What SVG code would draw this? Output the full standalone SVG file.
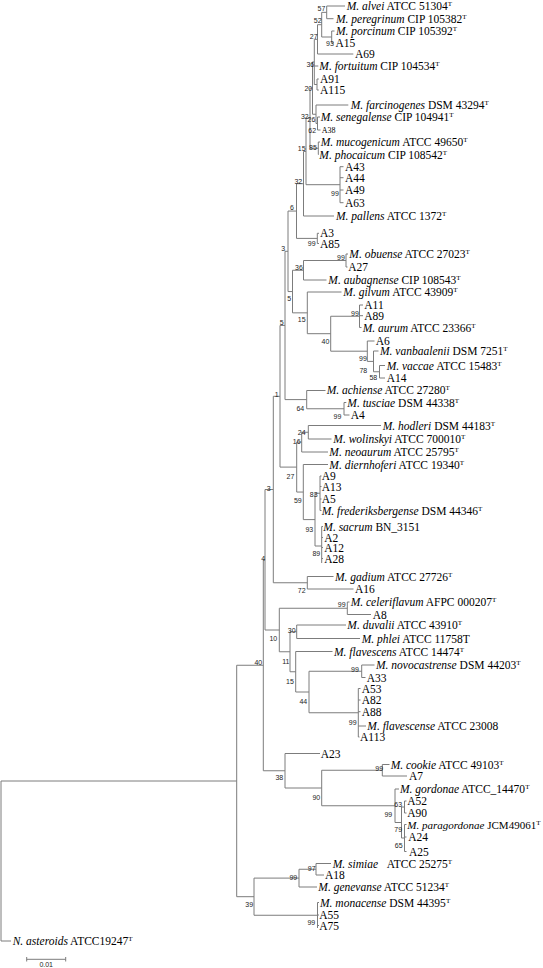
<svg xmlns="http://www.w3.org/2000/svg" width="543" height="968" viewBox="0 0 543 968">
<style>
.t{font-family:"Liberation Serif","Times New Roman",serif;font-size:11.5px;fill:#000}
.a{font-size:8px}
.i{font-style:italic}
.s{font-size:7px}
.b{font-family:"Liberation Sans",Arial,sans-serif;font-size:7px;fill:#222;text-anchor:middle}
.c{fill:none;stroke:#7c7c7c;stroke-width:1}
</style>
<rect width="543" height="968" fill="#fff"/>
<g id="connectors" class="c">
<path d="M326.7 6V18.7M326.7 6H345M326.7 18.7H333.5"/>
<path d="M331.7 31V43M331.7 31H334.5M331.7 43H334"/>
<path d="M321.7 12.35V37M321.7 12.35H326.7M321.7 37H331.7"/>
<path d="M317.5 24.7V54M317.5 24.7H321.7M317.5 54H353.3"/>
<path d="M317 79V90M317 79H318.8M317 90H318.8"/>
<path d="M314.3 39.35V84.5M314.3 39.35H317.5M314.3 66H318.3M314.3 84.5H317"/>
<path d="M318.3 142V154.5M318.3 142H320M318.3 154.5H318.8"/>
<path d="M317.5 117V130M317.5 117H320M317.5 130H320.5"/>
<path d="M316 105V123.5M316 105H348.3M316 123.5H317.5"/>
<path d="M312.5 61.9V114.25M312.5 61.9H314.3M312.5 114.25H316"/>
<path d="M310 88.1V148.25M310 88.1H312.5M310 148.25H318.3"/>
<path d="M340 166.7V202.7M340 166.7H343.5M340 177.7H343.5M340 190H343.5M340 202.7H343.5"/>
<path d="M306 118.2V184.7M306 118.2H310M306 184.7H340"/>
<path d="M303.5 151.45V216M303.5 151.45H306M303.5 216H334"/>
<path d="M317.3 233.3V243.5M317.3 233.3H319M317.3 243.5H319"/>
<path d="M296.5 183.7V238.4M296.5 183.7H303.5M296.5 238.4H317.3"/>
<path d="M346 254V267M346 254H348M346 267H347.5"/>
<path d="M303.5 260.5V280M303.5 260.5H346M303.5 280H326.5"/>
<path d="M359.5 305V327.5M359.5 305H363M359.5 315.7H363M359.5 327.5H361.5"/>
<path d="M379.5 365.5V378M379.5 365.5H385M379.5 378H385"/>
<path d="M373.5 351V371.75M373.5 351H378.5M373.5 371.75H379.5"/>
<path d="M367.3 341V361.4M367.3 341H374.5M367.3 361.4H373.5"/>
<path d="M330.7 316.25V351.2M330.7 316.25H359.5M330.7 351.2H367.3"/>
<path d="M307.3 292V333.7M307.3 292H341.5M307.3 333.7H330.7"/>
<path d="M292.5 270.25V312.85M292.5 270.25H303.5M292.5 312.85H307.3"/>
<path d="M288 211.05V291.55M288 211.05H296.5M288 291.55H292.5"/>
<path d="M344 402.5V415M344 402.5H346.3M344 415H349.5"/>
<path d="M306.7 390.5V408.75M306.7 390.5H325.5M306.7 408.75H344"/>
<path d="M285 251.3V399.6M285 251.3H288M285 399.6H306.7"/>
<path d="M308.3 425.5V439M308.3 425.5H381M308.3 439H331.5"/>
<path d="M301.7 432.25V452M301.7 432.25H308.3M301.7 452H328"/>
<path d="M320 476V510.5M320 476H321.5M320 486.5H321.5M320 499H321.5M320 510.5H321.5"/>
<path d="M321.7 526.5V563M321.7 526.5H323M321.7 537.5H323M321.7 547.5H323M321.7 558.5H323"/>
<path d="M315 493.25V546M315 493.25H320M315 546H321.7"/>
<path d="M303.3 464.5V519.6M303.3 464.5H328M303.3 519.6H315"/>
<path d="M296.7 442.1V492.05M296.7 442.1H301.7M296.7 492.05H303.3"/>
<path d="M280 325.45V467.1M280 325.45H285M280 467.1H296.7"/>
<path d="M307.3 576.5V589M307.3 576.5H333.5M307.3 589H353.5"/>
<path d="M273.3 396.3V582.75M273.3 396.3H280M273.3 582.75H307.3"/>
<path d="M347.3 602V614.5M347.3 602H349.5M347.3 614.5H371"/>
<path d="M296.7 625V638.5M296.7 625H346M296.7 638.5H360"/>
<path d="M361.7 665V677.5M361.7 665H374.5M361.7 677.5H365.5"/>
<path d="M358.3 688.5V737M358.3 688.5H360.5M358.3 700H360.5M358.3 711.7H360.5M358.3 726H366M358.3 737H359.5"/>
<path d="M309 671.25V712.75M309 671.25H361.7M309 712.75H358.3"/>
<path d="M295.7 651.5V692M295.7 651.5H332.5M295.7 692H309"/>
<path d="M290 631.75V671.75M290 631.75H296.7M290 671.75H295.7"/>
<path d="M279.3 608.25V651.75M279.3 608.25H347.3M279.3 651.75H290"/>
<path d="M265 489.5V630M265 489.5H273.3M265 630H279.3"/>
<path d="M382.3 764.5V776M382.3 764.5H389.5M382.3 776H407"/>
<path d="M404.5 801V813M404.5 801H406.5M404.5 813H406.5"/>
<path d="M404.5 824.5V851.5M404.5 824.5H406.5M404.5 837H406.5M404.5 851.5H406.5"/>
<path d="M401.5 807V838M401.5 807H404.5M401.5 838H404.5"/>
<path d="M395 789V822.5M395 789H399M395 822.5H401.5"/>
<path d="M321.7 770.25V805.75M321.7 770.25H382.3M321.7 805.75H395"/>
<path d="M285 753.5V788M285 753.5H320M285 788H321.7"/>
<path d="M263.3 559.75V770.75M263.3 559.75H265M263.3 770.75H285"/>
<path d="M316 863.5V875M316 863.5H331M316 875H324"/>
<path d="M299 869.25V887M299 869.25H316M299 887H317"/>
<path d="M317.5 902.5V928M317.5 902.5H319M317.5 915H319M317.5 925.5H319"/>
<path d="M254 878.1V915.25M254 878.1H299M254 915.25H317.5"/>
<path d="M236.7 665.25V896.7M236.7 665.25H263.3M236.7 896.7H254"/>
<path d="M1 781V941M1 781H236.7M1 941H11"/>
<path d="M26.7 959.3H65.7M26.7 957V961.5M65.7 957V961.5"/>
</g>
<g id="leaves" class="t">
<g id="leaf-alvei"><text x="346.7" y="10"><tspan class="i">M. alvei</tspan> ATCC 51304<tspan class="s" dy="-4">T</tspan></text></g>
<g id="leaf-peregrinum"><text x="336" y="22.7"><tspan class="i">M. peregrinum</tspan> CIP 105382<tspan class="s" dy="-4">T</tspan></text></g>
<g id="leaf-porcinum"><text x="336" y="35"><tspan class="i">M. porcinum</tspan> CIP 105392<tspan class="s" dy="-4">T</tspan></text></g>
<g id="leaf-A15"><text x="335.5" y="47">A15</text></g>
<g id="leaf-A69"><text x="355" y="58">A69</text></g>
<g id="leaf-fortuitum"><text x="319.3" y="70"><tspan class="i">M. fortuitum</tspan> CIP 104534<tspan class="s" dy="-4">T</tspan></text></g>
<g id="leaf-A91"><text x="320" y="83">A91</text></g>
<g id="leaf-A115"><text x="320" y="94">A115</text></g>
<g id="leaf-farcinogenes"><text x="350.7" y="108.5"><tspan class="i">M. farcinogenes</tspan> DSM 43294<tspan class="s" dy="-4">T</tspan></text></g>
<g id="leaf-senegalense"><text x="320.7" y="121"><tspan class="i">M. senegalense</tspan> CIP 104941<tspan class="s" dy="-4">T</tspan></text></g>
<g id="leaf-A38"><text class="a" x="321.7" y="133">A38</text></g>
<g id="leaf-mucogenicum"><text x="320.7" y="146"><tspan class="i">M. mucogenicum</tspan> ATCC 49650<tspan class="s" dy="-4">T</tspan></text></g>
<g id="leaf-phocaicum"><text x="319.3" y="158.5"><tspan class="i">M. phocaicum</tspan> CIP 108542<tspan class="s" dy="-4">T</tspan></text></g>
<g id="leaf-A43"><text x="345" y="170.7">A43</text></g>
<g id="leaf-A44"><text x="345" y="181.7">A44</text></g>
<g id="leaf-A49"><text x="345" y="194">A49</text></g>
<g id="leaf-A63"><text x="345" y="206.7">A63</text></g>
<g id="leaf-pallens"><text x="336" y="220"><tspan class="i">M. pallens</tspan> ATCC 1372<tspan class="s" dy="-4">T</tspan></text></g>
<g id="leaf-A3"><text x="320" y="237.3">A3</text></g>
<g id="leaf-A85"><text x="320" y="247.5">A85</text></g>
<g id="leaf-obuense"><text x="349.3" y="257.5"><tspan class="i">M. obuense</tspan> ATCC 27023<tspan class="s" dy="-4">T</tspan></text></g>
<g id="leaf-A27"><text x="348.3" y="271">A27</text></g>
<g id="leaf-aubagnense"><text x="328.3" y="284"><tspan class="i">M. aubagnense</tspan> CIP 108543<tspan class="s" dy="-4">T</tspan></text></g>
<g id="leaf-gilvum"><text x="343.3" y="296"><tspan class="i">M. gilvum</tspan> ATCC 43909<tspan class="s" dy="-4">T</tspan></text></g>
<g id="leaf-A11"><text x="364.3" y="309">A11</text></g>
<g id="leaf-A89"><text x="364.3" y="319.7">A89</text></g>
<g id="leaf-aurum"><text x="362.7" y="331.5"><tspan class="i">M. aurum</tspan> ATCC 23366<tspan class="s" dy="-4">T</tspan></text></g>
<g id="leaf-A6"><text x="375.7" y="345">A6</text></g>
<g id="leaf-vanbaalenii"><text x="380" y="355"><tspan class="i">M. vanbaalenii</tspan> DSM 7251<tspan class="s" dy="-4">T</tspan></text></g>
<g id="leaf-vaccae"><text x="386.7" y="369.5"><tspan class="i">M. vaccae</tspan> ATCC 15483<tspan class="s" dy="-4">T</tspan></text></g>
<g id="leaf-A14"><text x="386.7" y="382">A14</text></g>
<g id="leaf-achiense"><text x="326.7" y="394"><tspan class="i">M. achiense</tspan> ATCC 27280<tspan class="s" dy="-4">T</tspan></text></g>
<g id="leaf-tusciae"><text x="347.3" y="406.5"><tspan class="i">M. tusciae</tspan> DSM 44338<tspan class="s" dy="-4">T</tspan></text></g>
<g id="leaf-A4"><text x="350.7" y="419">A4</text></g>
<g id="leaf-hodleri"><text x="382.7" y="429.5"><tspan class="i">M. hodleri</tspan> DSM 44183<tspan class="s" dy="-4">T</tspan></text></g>
<g id="leaf-wolinskyi"><text x="333.3" y="443"><tspan class="i">M. wolinskyi</tspan> ATCC 700010<tspan class="s" dy="-4">T</tspan></text></g>
<g id="leaf-neoaurum"><text x="329.3" y="456"><tspan class="i">M. neoaurum</tspan> ATCC 25795<tspan class="s" dy="-4">T</tspan></text></g>
<g id="leaf-diernhoferi"><text x="329.3" y="468.5"><tspan class="i">M. diernhoferi</tspan> ATCC 19340<tspan class="s" dy="-4">T</tspan></text></g>
<g id="leaf-A9"><text x="321.7" y="480">A9</text></g>
<g id="leaf-A13"><text x="321.7" y="490.5">A13</text></g>
<g id="leaf-A5"><text x="321.7" y="503">A5</text></g>
<g id="leaf-frederiksbergense"><text x="321.7" y="514.5"><tspan class="i">M. frederiksbergense</tspan> DSM 44346<tspan class="s" dy="-4">T</tspan></text></g>
<g id="leaf-sacrum"><text x="323.3" y="530.5"><tspan class="i">M. sacrum</tspan> BN_3151</text></g>
<g id="leaf-A2"><text x="324.3" y="541.5">A2</text></g>
<g id="leaf-A12"><text x="324.3" y="551.5">A12</text></g>
<g id="leaf-A28"><text x="324.3" y="562.5">A28</text></g>
<g id="leaf-gadium"><text x="335" y="580.5"><tspan class="i">M. gadium</tspan> ATCC 27726<tspan class="s" dy="-4">T</tspan></text></g>
<g id="leaf-A16"><text x="355" y="593">A16</text></g>
<g id="leaf-celeriflavum"><text x="350.7" y="606"><tspan class="i">M. celeriflavum</tspan> AFPC 000207<tspan class="s" dy="-4">T</tspan></text></g>
<g id="leaf-A8"><text x="372.7" y="618.5">A8</text></g>
<g id="leaf-duvalii"><text x="347.3" y="629"><tspan class="i">M. duvalii</tspan> ATCC 43910<tspan class="s" dy="-4">T</tspan></text></g>
<g id="leaf-phlei"><text x="361.7" y="642.5"><tspan class="i">M. phlei</tspan> ATCC 11758T</text></g>
<g id="leaf-flavescens"><text x="334" y="655.5"><tspan class="i">M. flavescens</tspan> ATCC 14474<tspan class="s" dy="-4">T</tspan></text></g>
<g id="leaf-novocastrense"><text x="376" y="669"><tspan class="i">M. novocastrense</tspan> DSM 44203<tspan class="s" dy="-4">T</tspan></text></g>
<g id="leaf-A33"><text x="366.7" y="681.5">A33</text></g>
<g id="leaf-A53"><text x="361.7" y="692.5">A53</text></g>
<g id="leaf-A82"><text x="361.7" y="704">A82</text></g>
<g id="leaf-A88"><text x="361.7" y="715.7">A88</text></g>
<g id="leaf-flavescense"><text x="367.3" y="730"><tspan class="i">M. flavescense</tspan> ATCC 23008</text></g>
<g id="leaf-A113"><text x="360" y="741">A113</text></g>
<g id="leaf-A23"><text x="320.7" y="757.5">A23</text></g>
<g id="leaf-cookie"><text x="390.7" y="768.5"><tspan class="i">M. cookie</tspan> ATCC 49103<tspan class="s" dy="-4">T</tspan></text></g>
<g id="leaf-A7"><text x="409" y="780">A7</text></g>
<g id="leaf-gordonae"><text x="400" y="793"><tspan class="i">M. gordonae</tspan> ATCC_14470<tspan class="s" dy="-4">T</tspan></text></g>
<g id="leaf-A52"><text x="407.3" y="805">A52</text></g>
<g id="leaf-A90"><text x="407.3" y="817">A90</text></g>
<g id="leaf-paragordonae"><text x="407.3" y="828.5" style="font-size:11px"><tspan class="i">M. paragordonae</tspan> JCM49061<tspan class="s" dy="-4">T</tspan></text></g>
<g id="leaf-A24"><text x="408.3" y="841">A24</text></g>
<g id="leaf-A25"><text x="409" y="855.5">A25</text></g>
<g id="leaf-simiae"><text x="332.7" y="867.5"><tspan class="i">M. simiae</tspan><tspan x="386.7">ATCC 25275</tspan><tspan class="s" dy="-4">T</tspan></text></g>
<g id="leaf-A18"><text x="325" y="879">A18</text></g>
<g id="leaf-genevanse"><text x="318.3" y="891"><tspan class="i">M. genevanse</tspan> ATCC 51234<tspan class="s" dy="-4">T</tspan></text></g>
<g id="leaf-monacense"><text x="320" y="906.5"><tspan class="i">M. monacense</tspan> DSM 44395<tspan class="s" dy="-4">T</tspan></text></g>
<g id="leaf-A55"><text x="319.3" y="919">A55</text></g>
<g id="leaf-A75"><text x="319.3" y="929.5">A75</text></g>
<g id="leaf-asteroids"><text x="12.7" y="945"><tspan class="i">N. asteroids</tspan> ATCC19247<tspan class="s" dy="-4">T</tspan></text></g>
</g>
<g id="bootstrap" class="b" opacity="0.99">
<g id="node-57"><text x="321.5" y="10.9">57</text></g>
<g id="node-52"><text x="317.7" y="23.4">52</text></g>
<g id="node-93a"><text x="330" y="45.7">93</text></g>
<g id="node-27a"><text x="313.7" y="39.1">27</text></g>
<g id="node-36a"><text x="310.3" y="67.4">36</text></g>
<g id="node-20"><text x="308.3" y="90.7">20</text></g>
<g id="node-32a"><text x="304.8" y="119.1">32</text></g>
<g id="node-26"><text x="311.4" y="122.4">26</text></g>
<g id="node-62"><text x="312.2" y="133.4">62</text></g>
<g id="node-85"><text x="313" y="150.1">85</text></g>
<g id="node-15a"><text x="301.7" y="150.7">15</text></g>
<g id="node-32b"><text x="298.3" y="184.1">32</text></g>
<g id="node-99a"><text x="335" y="195.7">99</text></g>
<g id="node-6"><text x="292" y="210.1">6</text></g>
<g id="node-99b"><text x="311.7" y="245.7">99</text></g>
<g id="node-3a"><text x="283.3" y="250.7">3</text></g>
<g id="node-99c"><text x="341" y="259.7">99</text></g>
<g id="node-36b"><text x="299" y="269.7">36</text></g>
<g id="node-5a"><text x="289.2" y="300.7">5</text></g>
<g id="node-99d"><text x="355" y="316.4">99</text></g>
<g id="node-15b"><text x="301.7" y="322.4">15</text></g>
<g id="node-5b"><text x="281.7" y="324.7">5</text></g>
<g id="node-40a"><text x="325.5" y="344.1">40</text></g>
<g id="node-99e"><text x="363" y="360.7">99</text></g>
<g id="node-78"><text x="363.3" y="373.4">78</text></g>
<g id="node-58"><text x="373.3" y="380.1">58</text></g>
<g id="node-1"><text x="276.7" y="397.4">1</text></g>
<g id="node-64"><text x="300.3" y="410.7">64</text></g>
<g id="node-99f"><text x="337.5" y="419.1">99</text></g>
<g id="node-24"><text x="301.7" y="434.7">24</text></g>
<g id="node-16"><text x="296.7" y="444.1">16</text></g>
<g id="node-27b"><text x="290.5" y="479.1">27</text></g>
<g id="node-3b"><text x="268.7" y="490.7">3</text></g>
<g id="node-83"><text x="313.7" y="497.4">83</text></g>
<g id="node-59"><text x="297.8" y="503.4">59</text></g>
<g id="node-93b"><text x="309.3" y="532.4">93</text></g>
<g id="node-89"><text x="316.3" y="555.7">89</text></g>
<g id="node-4"><text x="263.2" y="560.7">4</text></g>
<g id="node-72"><text x="301.7" y="593.4">72</text></g>
<g id="node-99g"><text x="341.7" y="607.4">99</text></g>
<g id="node-30"><text x="291.7" y="633.4">30</text></g>
<g id="node-10"><text x="273.3" y="640.7">10</text></g>
<g id="node-40b"><text x="258.3" y="664.7">40</text></g>
<g id="node-11"><text x="285.8" y="664.1">11</text></g>
<g id="node-99h"><text x="355" y="671.7">99</text></g>
<g id="node-15c"><text x="290" y="684.1">15</text></g>
<g id="node-44"><text x="303.3" y="704.1">44</text></g>
<g id="node-99i"><text x="352.7" y="725.1">99</text></g>
<g id="node-99j"><text x="379.2" y="770.7">99</text></g>
<g id="node-38"><text x="279.3" y="780.1">38</text></g>
<g id="node-90"><text x="316.3" y="800.1">90</text></g>
<g id="node-63"><text x="398.2" y="807.4">63</text></g>
<g id="node-99k"><text x="388.3" y="817.4">99</text></g>
<g id="node-79"><text x="398.2" y="832.4">79</text></g>
<g id="node-65"><text x="398.7" y="848.4">65</text></g>
<g id="node-97"><text x="311.7" y="870.7">97</text></g>
<g id="node-99l"><text x="293.3" y="880.1">99</text></g>
<g id="node-39"><text x="249.2" y="907.4">39</text></g>
<g id="node-99m"><text x="311.3" y="925.1">99</text></g>
<g id="scale-label"><text x="46.2" y="967.4">0.01</text></g>
</g>
</svg>
